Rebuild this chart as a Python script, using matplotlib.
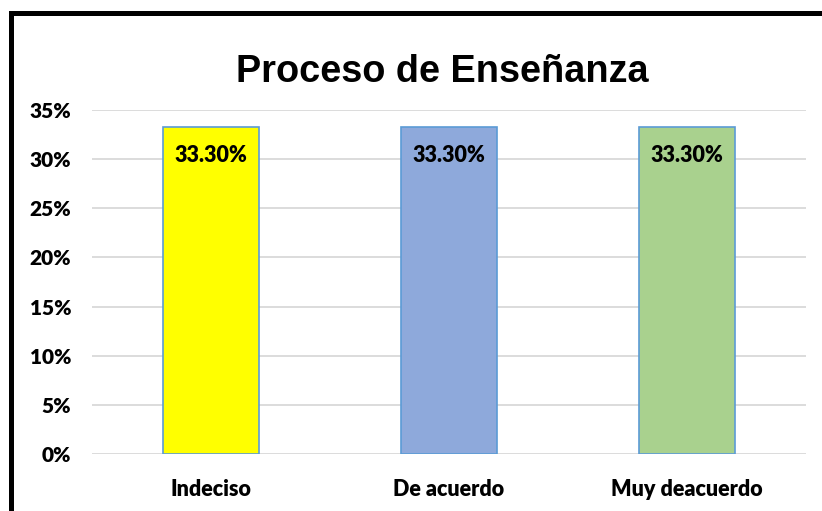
import matplotlib.pyplot as plt
from matplotlib.lines import Line2D
from matplotlib.ticker import PercentFormatter

categorias = ['Indeciso', 'De acuerdo', 'Muy deacuerdo']
valores = [0.333, 0.333, 0.333]
etiquetas = ['33.30%', '33.30%', '33.30%']
colores = ['#FFFF00', '#8EA9DB', '#A9D18E']

fig = plt.figure(figsize=(8.22, 5.11), dpi=100)
ax = fig.add_axes([92/822, 1-454/511, (806-92)/822, (454-110)/511])

x = range(len(categorias))
barras = ax.bar(x, valores, width=0.40, color=colores, edgecolor='#5B9BD5', linewidth=1.2, zorder=3)

for b, et in zip(barras, etiquetas):
    ax.annotate(et, (b.get_x() + b.get_width()/2, b.get_height()), xytext=(0, -21),
                textcoords='offset points', ha='center', va='center',
                fontsize=15.5, fontweight='heavy', family='Lato', zorder=4)

ax.set_ylim(0, 0.35)
ax.set_xlim(-0.5, 2.5)
ax.set_yticks([0, 0.05, 0.10, 0.15, 0.20, 0.25, 0.30, 0.35])
ax.yaxis.set_major_formatter(PercentFormatter(1.0, decimals=0))
ax.set_xticks(list(x))
ax.set_xticklabels(categorias)
ax.grid(axis='y', color='#D9D9D9', linewidth=1.3, zorder=0)
for s in ax.spines.values():
    s.set_visible(False)
ax.tick_params(axis='y', length=0, pad=15, labelsize=15)
ax.tick_params(axis='x', length=0, pad=18, labelsize=15.5)
for lab in ax.get_xticklabels() + ax.get_yticklabels():
    lab.set_fontweight('heavy')
    lab.set_family('Lato')

fig.text(442/822, 1-82/511, 'Proceso de Enseñanza', ha='center', va='baseline',
         fontsize=27.3, fontweight='bold', family='Liberation Sans')

# marco (solo arriba e izquierda visibles)
fig.add_artist(Line2D([10.5/822, 10.5/822], [0, 1-13.5/511], color='black', linewidth=3.6,
                      transform=fig.transFigure, solid_capstyle='projecting'))
fig.add_artist(Line2D([10.5/822, 1], [1-13.5/511, 1-13.5/511], color='black', linewidth=3.6,
                      transform=fig.transFigure, solid_capstyle='projecting'))

fig.savefig('out.png', dpi=100)
